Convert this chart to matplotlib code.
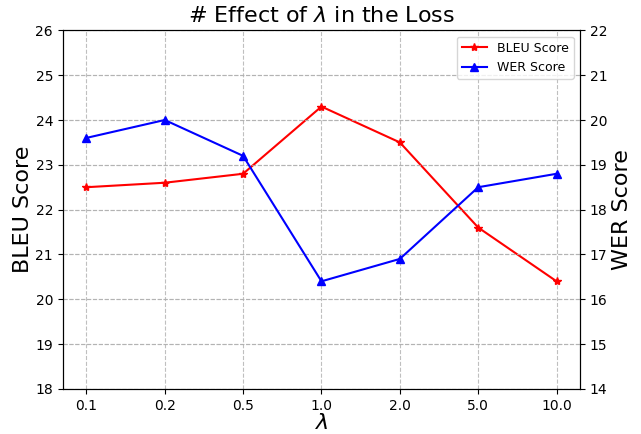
import matplotlib
matplotlib.use("Agg")
import matplotlib.pyplot as plt

lambdas = ["0.1", "0.2", "0.5", "1.0", "2.0", "5.0", "10.0"]
bleu = [22.5, 22.6, 22.8, 24.3, 23.5, 21.6, 20.4]
wer = [19.6, 20.0, 19.2, 16.4, 16.9, 18.5, 18.8]

fig, ax1 = plt.subplots(figsize=(6.41, 4.34), dpi=100)
fig.subplots_adjust(left=0.098, right=0.905, top=0.93, bottom=0.104)

x = range(len(lambdas))
l1, = ax1.plot(x, bleu, color='red', marker='*', label='BLEU Score')
ax1.set_ylim(18, 26)
ax1.set_ylabel("BLEU Score", fontsize=16, labelpad=2)
ax1.set_xlabel(r"$\lambda$", fontsize=16, labelpad=0)
ax1.set_xticks(list(x))
ax1.set_xticklabels(lambdas)
ax1.set_xlim(-0.3, 6.3)
ax1.grid(True, linestyle='--', color='#b0b0b0', alpha=0.8, linewidth=0.8)

ax2 = ax1.twinx()
l2, = ax2.plot(x, wer, color='blue', marker='^', label='WER Score')
ax2.set_ylim(14, 22)
ax2.set_ylabel("WER Score", fontsize=16, labelpad=3)
ax2.grid(True, linestyle='--', color='#b0b0b0', alpha=0.8, linewidth=0.8)

ax1.set_title(r"# Effect of $\lambda$ in the Loss", fontsize=16)
ax2.legend([l1, l2], [l1.get_label(), l2.get_label()], loc='upper right', fontsize=9)

fig.savefig("out.png", dpi=100)
